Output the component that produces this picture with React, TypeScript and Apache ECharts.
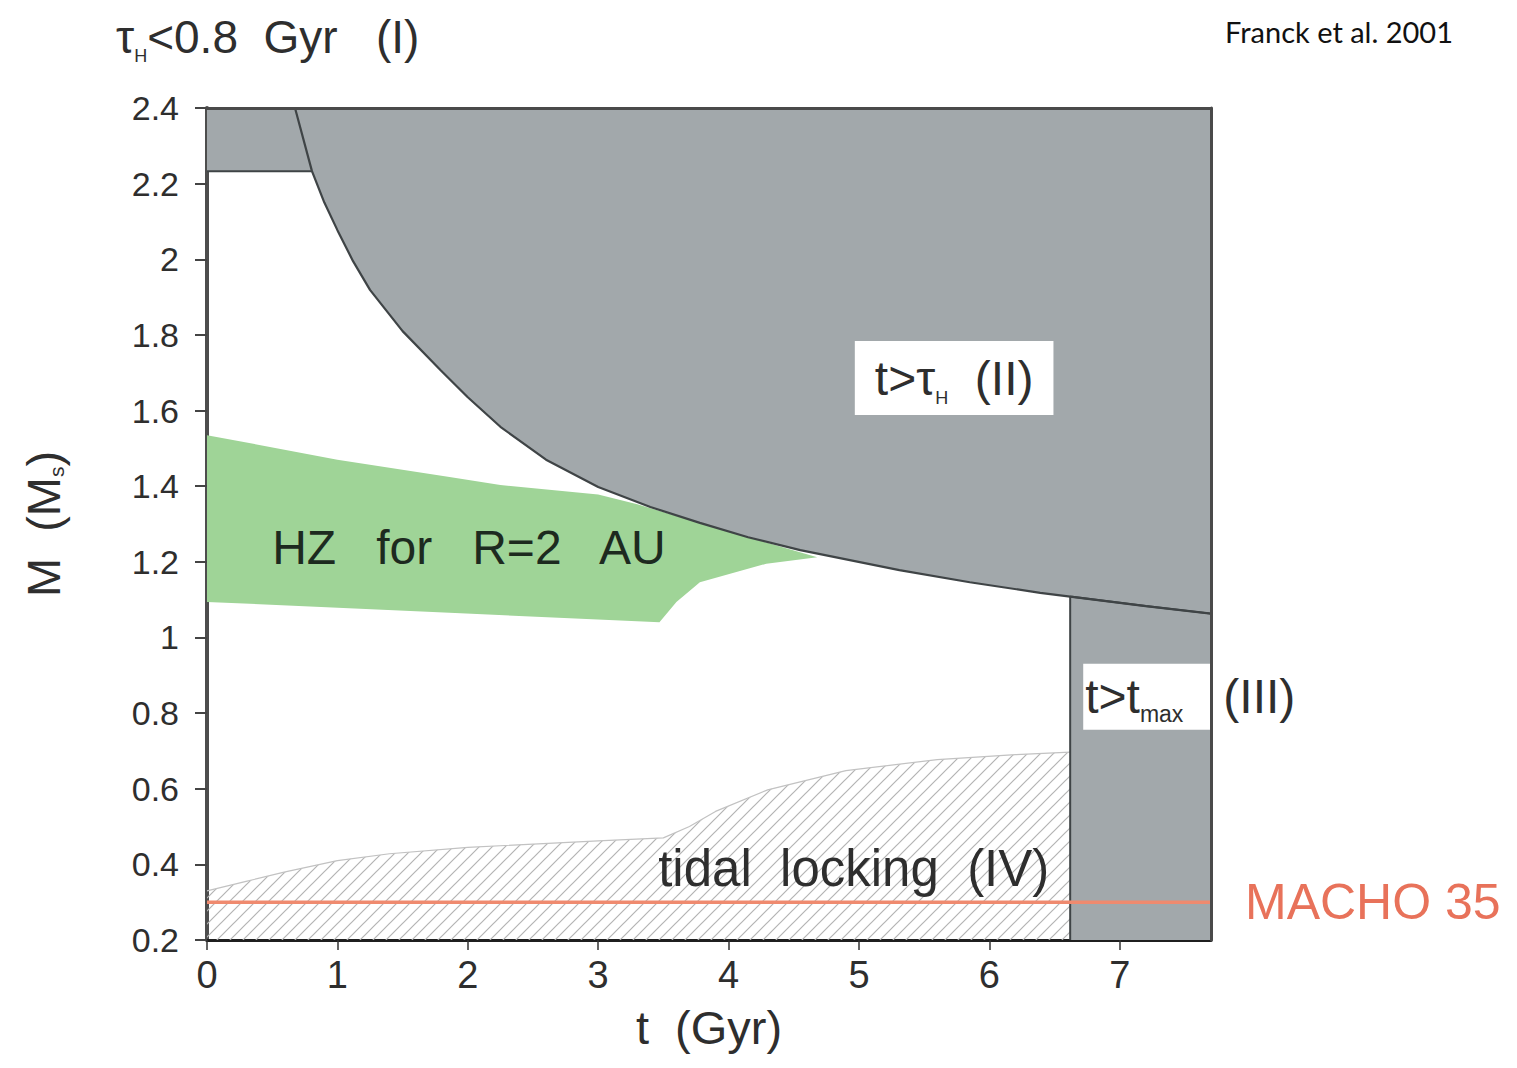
import React, { useEffect, useRef } from 'react';
import * as echarts from 'echarts';

// ---------- data ----------
const T_TICKS = [0, 1, 2, 3, 4, 5, 6, 7];
const T_MIN = 0;
const T_MAX = 7.7;
const M_MIN = 0.2;
const M_MAX = 2.4;
const M_STEP = 0.2;

// (II) main-sequence lifetime limit t = tau_H(M)
const lifetimeLimit: [number, number][] = [
  [0.675, 2.4], [0.805, 2.233], [0.9, 2.15], [1.0, 2.077], [1.12, 1.995], [1.25, 1.919],
  [1.5, 1.81], [1.79, 1.707], [2.0, 1.635], [2.25, 1.557], [2.6, 1.47], [3.0, 1.398],
  [3.4, 1.345], [3.78, 1.303], [4.15, 1.265], [4.55, 1.231], [5.31, 1.178],
  [5.85, 1.146], [6.39, 1.118], [6.62, 1.108], [7.2, 1.083], [7.7, 1.063],
];
// (I) tau_H < 0.8 Gyr
const youngLimit: [number, number][] = [[0, 2.233], [0.805, 2.233]];
// (III) t > t_max
const tmaxRegion: [number, number][] = [[6.62, 0.2], [6.62, 1.108], [7.2, 1.083], [7.7, 1.063]];
// HZ for R = 2 AU (closed outline)
const hzUpper: [number, number][] = [
  [0, 1.535], [1.0, 1.47], [1.86, 1.424], [2.25, 1.403], [3.0, 1.378],
  [3.3, 1.352], [3.78, 1.303], [4.15, 1.265], [4.68, 1.212],
];
const hzLower: [number, number][] = [
  [4.29, 1.195], [3.78, 1.146], [3.6, 1.094], [3.47, 1.04], [1.86, 1.065], [0, 1.094],
];
// (IV) tidal locking upper limit
const tidalUpper: [number, number][] = [
  [0, 0.33], [0.3, 0.355], [0.6, 0.38], [1.0, 0.41], [1.4, 0.428], [2.0, 0.445],
  [3.0, 0.462], [3.5, 0.47], [3.7, 0.5], [3.9, 0.54], [4.3, 0.597], [4.9, 0.648],
  [5.6, 0.677], [6.2, 0.69], [6.62, 0.697],
];
const machoMass = 0.3;
const MACHO_LABEL = 'MACHO 35';

// annotation anchors in data coordinates
const hzLabelAt: [number, number] = [0.5, 1.237];
const tidalLabelAt: [number, number] = [3.46, 0.39];
const regionIILabelAt: [number, number] = [5.73, 1.686];
const regionIIILabelAt: [number, number] = [6.72, 0.843];

// ---------- styles ----------
const FONT = "'Liberation Sans', Arial, Helvetica, sans-serif";
const INK = '#2e2e2e';
const GRAY = '#a2a8ab';
const EDGE = '#3f4446';
const GREEN = '#9fd497';
const SALMON = '#ef8a6f';

function hatchUrl() {
  const svg =
    "<svg xmlns='http://www.w3.org/2000/svg' width='13' height='13'>" +
    "<path d='M-3,3 L3,-3 M0,13 L13,0 M10,16 L16,10' stroke='#b3b3b3' stroke-width='1.2' fill='none'/></svg>";
  return 'data:image/svg+xml;charset=utf-8,' + encodeURIComponent(svg);
}

export default function App() {
  const ref = useRef<HTMLDivElement>(null);

  useEffect(() => {
    if (!ref.current) return;
    const chart = echarts.init(ref.current, undefined, { renderer: 'svg' });
    const hzPolygon = [...hzUpper, ...hzLower];
    const sub = (size: number) => ({ fontSize: size, fontFamily: FONT, color: INK, verticalAlign: 'bottom' });

    const option: any = {
      animation: false,
      backgroundColor: '#ffffff',
      grid: { left: 207, right: 306, top: 108, bottom: 128, containLabel: false },
      graphic: [
        {
          type: 'text', left: 116, top: 14, z: 10,
          style: {
            text: '{a|τ}{s|H}{a|<0.8  Gyr   (I)}',
            rich: {
              a: { fontSize: 46, fontFamily: FONT, fill: INK, lineHeight: 56 },
              s: { fontSize: 18, fontFamily: FONT, fill: INK, verticalAlign: 'bottom' },
            },
          },
        },
        {
          type: 'text', right: 64, top: 17, z: 10,
          style: { text: 'Franck et al. 2001', fontSize: 29, fontFamily: 'Lato, "Open Sans", sans-serif', fill: '#111' },
        },
      ],
      xAxis: [
        {
          type: 'value', min: T_MIN, max: T_MAX, interval: 1, position: 'bottom',
          name: 't  (Gyr)', nameLocation: 'middle', nameGap: 64,
          nameTextStyle: { fontSize: 47, color: INK, fontFamily: FONT },
          axisLine: { show: true, onZero: false, lineStyle: { color: '#1f1f1f', width: 3 } },
          axisTick: { show: true, length: 10, customValues: T_TICKS, lineStyle: { color: '#333', width: 1.5 } },
          axisLabel: {
            margin: 16, fontSize: 38, color: INK, fontFamily: FONT, customValues: T_TICKS,
            formatter: (v: number) => (Number.isInteger(v) ? String(v) : ''),
          },
          splitLine: { show: false },
        },
        {
          type: 'value', min: T_MIN, max: T_MAX, position: 'top', z: 10,
          axisLine: { show: true, onZero: false, lineStyle: { color: '#4a4a4a', width: 3 } },
          axisTick: { show: false }, axisLabel: { show: false }, splitLine: { show: false },
        },
      ],
      yAxis: [
        {
          type: 'value', min: M_MIN, max: M_MAX, interval: M_STEP, position: 'left',
          name: 'M  (M{s|s})', nameLocation: 'middle', nameGap: 140, nameRotate: 90,
          nameTextStyle: { fontSize: 47, color: INK, fontFamily: FONT, rich: { s: sub(21) } },
          axisLine: { show: true, onZero: false, lineStyle: { color: '#4d4d4d', width: 4 } },
          axisTick: { show: true, length: 12, lineStyle: { color: '#444', width: 2 } },
          axisLabel: {
            margin: 28, fontSize: 34, color: INK, fontFamily: FONT,
            formatter: (v: number) => String(parseFloat(v.toFixed(1))),
          },
          splitLine: { show: false },
        },
        {
          type: 'value', min: M_MIN, max: M_MAX, position: 'right', z: 10,
          axisLine: { show: true, onZero: false, lineStyle: { color: '#4a4a4a', width: 3 } },
          axisTick: { show: false }, axisLabel: { show: false }, splitLine: { show: false },
        },
      ],
      series: [
        {
          name: 'tidal locking', type: 'line', data: tidalUpper, symbol: 'none', silent: true, z: 1,
          lineStyle: { color: '#c2c2c2', width: 1.2 },
          areaStyle: {
            origin: 'start', opacity: 1,
            color: { image: hatchUrl(), repeat: 'repeat', imageWidth: 13, imageHeight: 13 },
          },
        },
        {
          name: 'HZ', type: 'custom', coordinateSystem: 'cartesian2d', data: hzPolygon, z: 1, silent: true,
          encode: { x: 0, y: 1 },
          renderItem: (params: any, api: any) => {
            if (params.dataIndex !== 0) return null;
            const pts = hzPolygon.map((p) => api.coord(p));
            return { type: 'polygon', shape: { points: pts }, style: { fill: GREEN } };
          },
        },
        {
          name: 'I', type: 'line', data: youngLimit, symbol: 'none', silent: true, z: 2,
          lineStyle: { color: EDGE, width: 2 },
          areaStyle: { origin: 'end', color: GRAY, opacity: 1 },
        },
        {
          name: 'II', type: 'line', data: lifetimeLimit, symbol: 'none', silent: true, z: 2,
          lineStyle: { color: EDGE, width: 2.2 },
          areaStyle: { origin: 'end', color: GRAY, opacity: 1 },
        },
        {
          name: 'III', type: 'line', data: tmaxRegion, symbol: 'none', silent: true, z: 2,
          lineStyle: { color: EDGE, width: 2 },
          areaStyle: { origin: 'start', color: GRAY, opacity: 1 },
        },
        {
          name: 'MACHO 35', type: 'line', data: [[T_MIN, machoMass], [T_MAX, machoMass]],
          symbol: 'none', silent: true, z: 3,
          lineStyle: { color: SALMON, width: 3.5 },
          endLabel: {
            show: true, formatter: MACHO_LABEL, distance: 34, color: '#e8725a',
            fontSize: 50, fontFamily: FONT,
          },
        },
        {
          name: 'labels', type: 'scatter', symbolSize: 0, silent: true, z: 5,
          itemStyle: { opacity: 1 },
          data: [
            {
              value: hzLabelAt,
              label: {
                show: true, position: 'right', distance: 0, formatter: 'HZ   for   R=2   AU',
                fontSize: 48, color: '#1d2a1f', fontFamily: FONT, opacity: 1,
              },
            },
            {
              value: tidalLabelAt,
              label: {
                show: true, position: 'right', distance: 0, formatter: 'tidal  locking  (IV)',
                fontSize: 51, color: INK, fontFamily: FONT, opacity: 1,
              },
            },
            {
              value: regionIILabelAt,
              label: {
                show: true, position: 'inside', formatter: '{a|t>τ}{s|H}{a|  (II)}',
                backgroundColor: '#ffffff', padding: [8, 20, 8, 20], opacity: 1,
                rich: {
                  a: { fontSize: 48, color: INK, fontFamily: FONT, lineHeight: 58 },
                  s: sub(18),
                },
              },
            },
            {
              value: regionIIILabelAt,
              label: {
                show: true, position: 'right', distance: 0, formatter: '{a|t>t}{s|max}{a|   (III)}',
                backgroundColor: '#ffffff', padding: [4, 4, 4, 2], opacity: 1,
                rich: {
                  a: { fontSize: 48, color: INK, fontFamily: FONT, lineHeight: 58 },
                  s: sub(23),
                },
              },
            },
          ],
        },
      ],
    };

    chart.setOption(option);
    return () => chart.dispose();
  }, []);

  return (
    <div
      ref={ref}
      style={{ position: 'fixed', left: 0, top: 0, width: 1517, height: 1068, background: '#fff' }}
    />
  );
}
